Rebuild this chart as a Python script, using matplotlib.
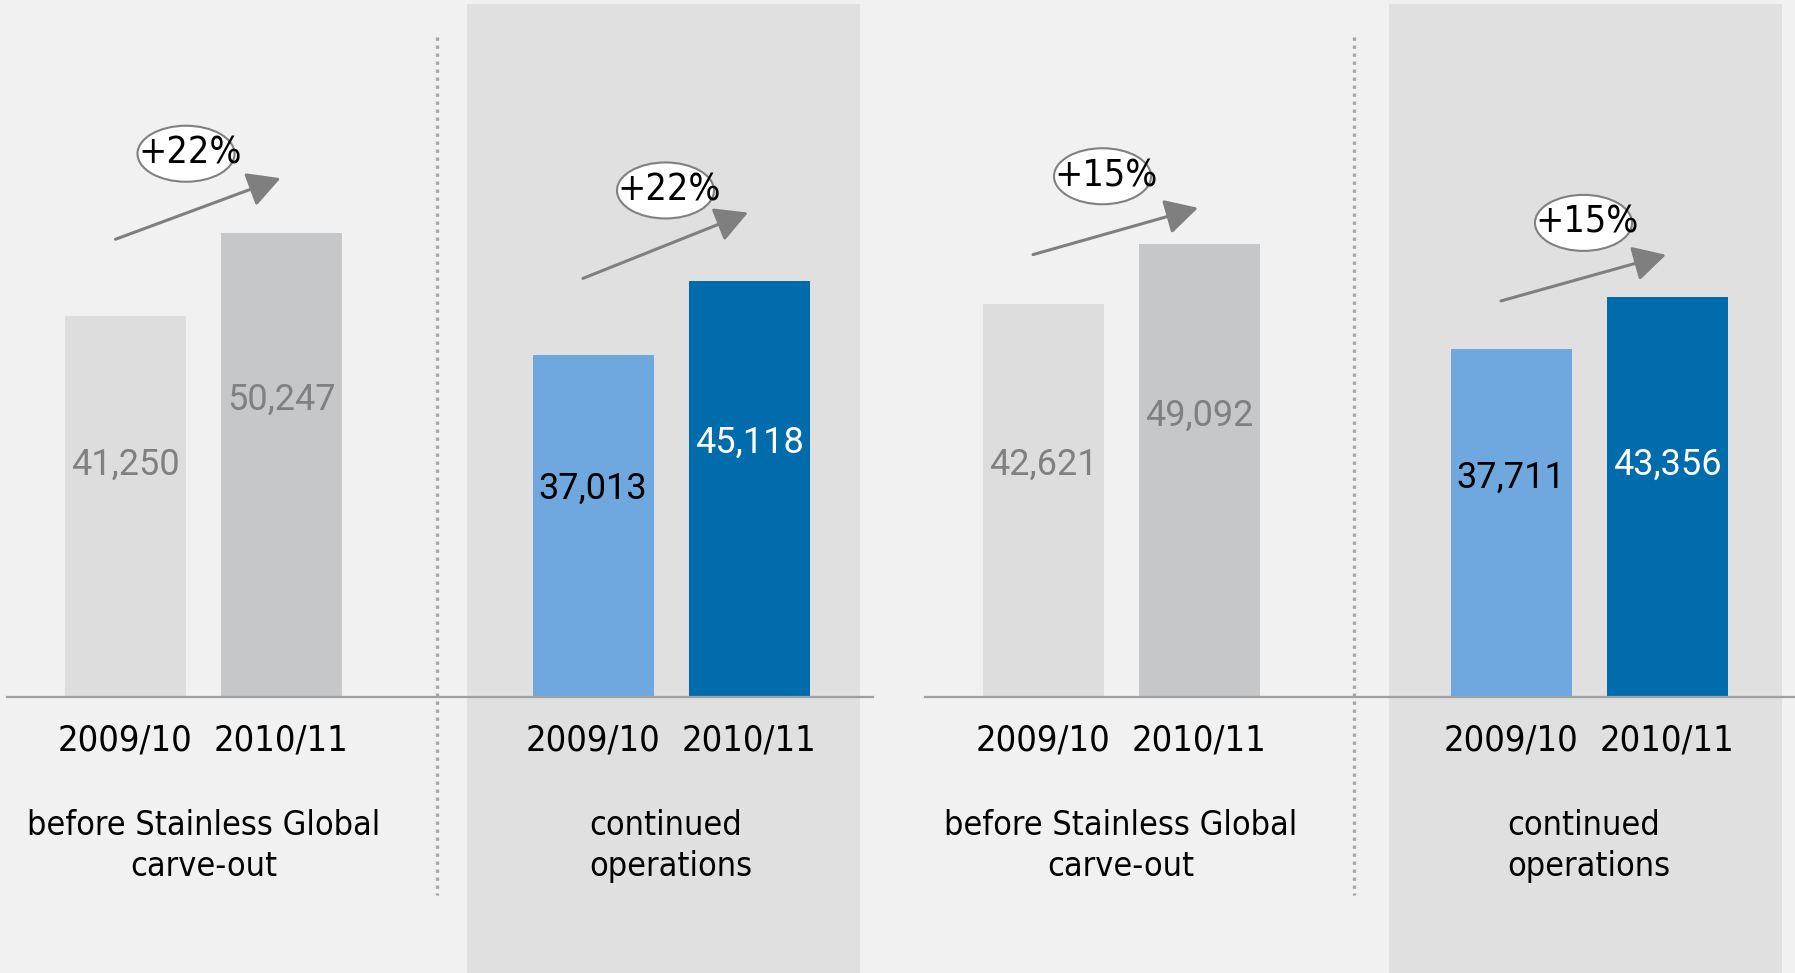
import matplotlib
matplotlib.use('Agg')
import matplotlib.pyplot as plt
from matplotlib.patches import Ellipse, Rectangle

# data
groups = ['before Stainless Global\ncarve-out', 'continued\noperations',
          'before Stainless Global\ncarve-out', 'continued\noperations']
years = ['2009/10', '2010/11']
prev = [41250, 37013, 42621, 37711]
curr = [50247, 45118, 49092, 43356]
growth = ['+22%', '+22%', '+15%', '+15%']

# layout (pixel space of the 1795x973 canvas, y measured from top)
W, H = 1795, 973
BASE = 697          # baseline pixel row
PPU = 0.00923       # pixels per unit of value
centers = [203.5, 671, 1121, 1589]
off = 78
bw = 121
arr_start = [77, 77, 49, 48]   # px above bar top
arr_tip = [55, 68, 36, 42]
ell_dx = [-12, 0, -13, 0]
lab_frac = [[0.61, 0.64], [0.61, 0.61], [0.59, 0.62], [0.63, 0.58]]
grp_align = ['center', 'left', 'center', 'left']

def py(ypx):
    return (BASE - ypx) / PPU

bar_cols = [['#dddddd', '#c6c7c9'], ['#6fa8de', '#006cab'],
            ['#dddddd', '#c6c7c9'], ['#6fa8de', '#006cab']]
lab_cols = [['#808080', '#808080'], ['black', 'white'],
            ['#808080', '#808080'], ['black', 'white']]

num_font = ['Roboto', 'DejaVu Sans']
txt_font = ['DejaVu Sans']

fig = plt.figure(figsize=(W / 100, H / 100), dpi=100)
fig.patch.set_facecolor('#f1f1f1')
ax = fig.add_axes([0, 0, 1, 1])
ax.set_xlim(0, W)
ax.set_ylim(py(H), py(0))
ax.axis('off')

# shaded panels
for x0, x1 in [(467, 860), (1389, 1782)]:
    ax.add_patch(Rectangle((x0, py(H)), x1 - x0, py(4) - py(H),
                           facecolor='#e0e0e0', edgecolor='none', zorder=0))

# dotted separators
for x in [437, 1354]:
    ax.plot([x, x], [py(37), py(895)], color='#a6a6a6', lw=2.4,
            ls=(0, (1, 1.4)), solid_capstyle='butt', zorder=1)

# baselines
ax.plot([7, 873], [0, 0], color='#a0a0a0', lw=1.6, zorder=3)
ax.plot([925, W], [0, 0], color='#a0a0a0', lw=1.6, zorder=3)

for i, c in enumerate(centers):
    vals = [prev[i], curr[i]]
    xs = [c - off, c + off]
    ax.bar(xs, vals, width=bw, color=bar_cols[i], zorder=2)
    for j in range(2):
        ax.text(xs[j], vals[j] * lab_frac[i][j], f'{vals[j]:,}', ha='center',
                va='center', fontsize=26, color=lab_cols[i][j],
                family=num_font, zorder=4)
        ax.text(xs[j], py(741), years[j], ha='center', va='center',
                fontsize=26, fontstretch='condensed', color='black',
                family=txt_font)
    ax.text(c, py(846), groups[i], ha='center', va='center', fontsize=24.5,
            fontstretch='condensed', color='black', family=txt_font,
            linespacing=1.33, multialignment=grp_align[i])

    # growth arrow
    s = (xs[0] - 10, vals[0] + arr_start[i] / PPU)
    t = (xs[1] - 1, vals[1] + arr_tip[i] / PPU)
    ax.annotate('', xy=t, xytext=s,
                arrowprops=dict(arrowstyle='-|>,head_length=0.5,head_width=0.27',
                                color='#7f7f7f', lw=2.2, mutation_scale=40,
                                shrinkA=0, shrinkB=0), zorder=5)
    mx = (s[0] + t[0]) / 2 + ell_dx[i]
    my = (s[1] + t[1]) / 2 + 55 / PPU
    ax.add_patch(Ellipse((mx, my), 97, 56 / PPU, facecolor='white',
                         edgecolor='#808080', lw=1.5, zorder=5))
    ax.text(mx + 4, my, growth[i], ha='center', va='center', fontsize=27,
            fontstretch='condensed', color='black', family=txt_font, zorder=6)

fig.savefig('out.png', dpi=100, facecolor=fig.get_facecolor())
